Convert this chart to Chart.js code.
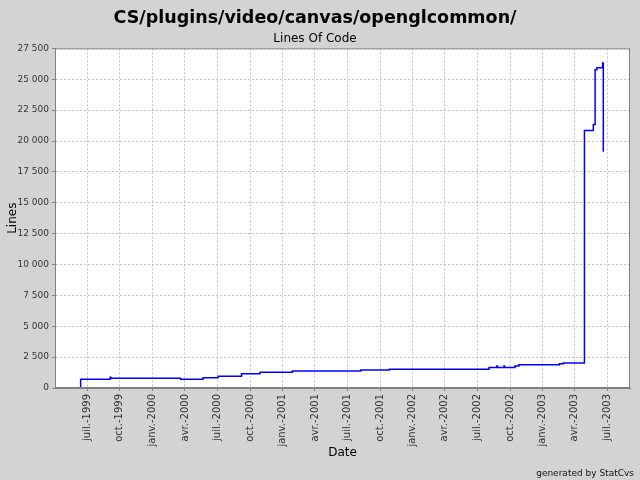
<!DOCTYPE html>
<html>
<head>
<meta charset="utf-8">
<script src="https://cdn.jsdelivr.net/npm/chart.js@4/dist/chart.umd.min.js"></script>
<style>
  html, body { margin: 0; background: #d3d3d3; }
</style>
</head>
<body>
<canvas id="locChart" width="640" height="480"></canvas>
<script>
// lines of code over time (step chart)
const dates = [
  "1999-06-13", "1999-06-13", "1999-09-04", "1999-09-06", "2000-03-20",
  "2000-05-22", "2000-07-03", "2000-09-07", "2000-10-29", "2001-01-28",
  "2001-08-08", "2001-10-27", "2002-08-03", "2002-08-25", "2002-08-27",
  "2002-09-14", "2002-09-16", "2002-10-15", "2002-10-26", "2003-02-17",
  "2003-02-28", "2003-04-28", "2003-05-23", "2003-05-28", "2003-06-02",
  "2003-06-18", "2003-06-20",
];
const lines = [
  0, 700, 870, 780, 700,
  830, 950, 1150, 1270, 1375,
  1455, 1520, 1670, 1780, 1670,
  1780, 1670, 1780, 1890, 1970,
  2020, 20850, 21330, 25780, 25940,
  26310, 19140,
];

const tickDates = [
  "1999-07-01", "1999-10-01", "2000-01-01", "2000-04-01", "2000-07-01",
  "2000-10-01", "2001-01-01", "2001-04-01", "2001-07-01", "2001-10-01",
  "2002-01-01", "2002-04-01", "2002-07-01", "2002-10-01", "2003-01-01",
  "2003-04-01", "2003-07-01",
];
const tickLabels = [
  "juil.-1999", "oct.-1999", "janv.-2000", "avr.-2000", "juil.-2000",
  "oct.-2000", "janv.-2001", "avr.-2001", "juil.-2001", "oct.-2001",
  "janv.-2002", "avr.-2002", "juil.-2002", "oct.-2002", "janv.-2003",
  "avr.-2003", "juil.-2003",
];

const DAY = 86400000;
const toDay = (s) => Date.parse(s) / DAY;

const points = dates.map((d, i) => ({ x: toDay(d), y: lines[i] }));
const tickDays = tickDates.map(toDay);

function fmtThousands(v) {
  return String(v).replace(/\B(?=(\d{3})+(?!\d))/g, " ");
}

const backdrop = {
  id: "backdrop",
  beforeDraw(chart) {
    const { ctx, chartArea: a } = chart;
    ctx.save();
    ctx.fillStyle = "#d3d3d3";
    ctx.fillRect(0, 0, chart.width, chart.height);
    ctx.fillStyle = "#ffffff";
    ctx.fillRect(a.left, a.top, a.right - a.left, a.bottom - a.top);
    ctx.restore();
  },
  afterDraw(chart) {
    const { ctx, chartArea: a } = chart;
    ctx.save();
    ctx.strokeStyle = "#808080";
    ctx.lineWidth = 1;
    ctx.strokeRect(a.left + 0.5, a.top + 0.5, a.right - a.left - 1, a.bottom - a.top - 1);
    ctx.fillStyle = "#111111";
    ctx.font = "9px 'DejaVu Sans'";
    ctx.textAlign = "right";
    ctx.textBaseline = "alphabetic";
    ctx.fillText("generated by StatCvs", 634, 476);
    ctx.restore();
  },
};

const ctx = document.getElementById("locChart").getContext("2d");

new Chart(ctx, {
  type: "line",
  data: {
    datasets: [
      {
        label: "Lines",
        data: points,
        stepped: true,
        borderColor: "#0000ff",
        borderWidth: 1.5,
        pointRadius: 0,
        fill: false,
      },
    ],
  },
  options: {
    responsive: false,
    animation: false,
    devicePixelRatio: 1,
    layout: { padding: { left: 0, right: 10, top: 0, bottom: 14 } },
    plugins: {
      legend: { display: false },
      tooltip: { enabled: false },
      title: {
        display: true,
        text: "CS/plugins/video/canvas/openglcommon/",
        color: "#000000",
        font: { family: "'DejaVu Sans'", size: 17.5, weight: "bold" },
        padding: { top: 8, bottom: 3 },
      },
      subtitle: {
        display: true,
        text: "Lines Of Code",
        color: "#000000",
        font: { family: "'DejaVu Sans'", size: 12 },
        padding: { top: 0, bottom: 2 },
      },
    },
    scales: {
      x: {
        type: "linear",
        min: toDay("1999-04-02"),
        max: toDay("2003-09-03"),
        afterBuildTicks(scale) {
          scale.ticks = tickDays.map((v) => ({ value: v }));
        },
        afterFit(scale) {
          scale.height = 78;
        },
        ticks: {
          autoSkip: false,
          minRotation: 90,
          maxRotation: 90,
          color: "#333333",
          font: { family: "'DejaVu Sans'", size: 10 },
          callback: (v, i) => tickLabels[i],
        },
        grid: { color: "#c0c0c0", tickLength: 3, tickColor: "#808080" },
        border: { color: "#808080", dash: [2, 2] },
        title: {
          display: true,
          text: "Date",
          color: "#000000",
          font: { family: "'DejaVu Sans'", size: 12 },
          padding: { top: 6, bottom: 6 },
        },
      },
      y: {
        min: 0,
        max: 27500,
        afterFit(scale) {
          scale.width = 55;
        },
        ticks: {
          stepSize: 2500,
          color: "#333333",
          font: { family: "'DejaVu Sans'", size: 9 },
          callback: (v) => fmtThousands(v),
        },
        grid: { color: "#c0c0c0", tickLength: 3, tickColor: "#808080" },
        border: { color: "#808080", dash: [2, 2] },
        title: {
          display: true,
          text: "Lines",
          color: "#000000",
          font: { family: "'DejaVu Sans'", size: 12 },
          padding: { top: 6, bottom: 6 },
        },
      },
    },
  },
  plugins: [backdrop],
});
</script>
</body>
</html>
